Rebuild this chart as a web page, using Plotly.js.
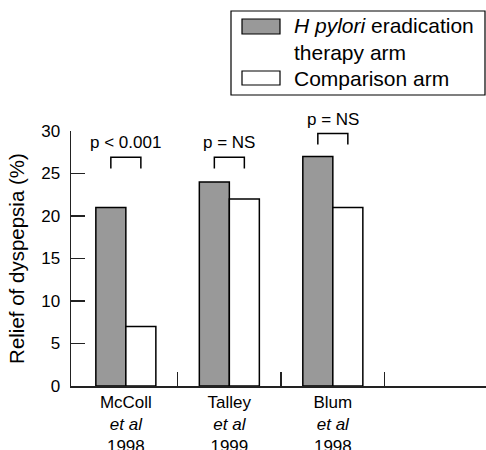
<!DOCTYPE html>
<html>
<head>
<meta charset="utf-8">
<script src="https://cdn.plot.ly/plotly-3.0.1.min.js"></script>
<style>html,body{margin:0;padding:0;background:#fff;}#chart{width:486px;height:450px;}</style>
</head>
<body>
<div id="chart"></div>
<script>
// ---- data ----
var studies = ["McColl", "Talley", "Blum"];
var studyYears = ["1998", "1999", "1998"];
var eradicationArm = [21, 24, 27];
var comparisonArm = [7, 22, 21];
var pLabels = ["p < 0.001", "p = NS", "p = NS"];
var bracketLevels = [26.9, 26.9, 29.7];
var seriesNames = ["<i>H pylori</i> eradication<br>therapy arm", "Comparison arm"];
var yTitle = "Relief of dyspepsia (%)";

var xIdx = studies.map(function (_, i) { return i; });
var tickText = studies.map(function (s, i) { return s + "<br><i>et al</i><br>" + studyYears[i]; });

var FONT = "Liberation Sans, Arial, Helvetica, sans-serif";
var GRAY = "#999999";

var traces = [
  { type: "bar", x: xIdx, y: eradicationArm, name: seriesNames[0],
    marker: { color: GRAY, line: { color: "#000", width: 1.5 } }, showlegend: false, hoverinfo: "skip" },
  { type: "bar", x: xIdx, y: comparisonArm, name: seriesNames[1],
    marker: { color: "#fff", line: { color: "#000", width: 1.5 } }, showlegend: false, hoverinfo: "skip" }
];

var half = 0.145, depth = 1.3;
var shapes = [];
var annotations = [];
xIdx.forEach(function (i) {
  var top = bracketLevels[i];
  shapes.push({ type: "path", xref: "x", yref: "y",
    path: "M" + (i - half) + "," + (top - depth) + " L" + (i - half) + "," + top +
          " L" + (i + half) + "," + top + " L" + (i + half) + "," + (top - depth),
    line: { color: "#000", width: 1.5 } });
  annotations.push({ xref: "x", yref: "y", x: i, y: top, yanchor: "bottom", yshift: 3,
    text: pLabels[i], showarrow: false, font: { family: FONT, size: 17, color: "#000" } });
});

// legend (drawn manually to match the wide swatches)
function px2x(p) { return (p - 71) / 415; }
function px2y(p) { return (386 - p) / 255; }
shapes.push({ type: "rect", xref: "paper", yref: "paper",
  x0: px2x(231), x1: px2x(485), y0: px2y(95), y1: px2y(11), line: { color: "#000", width: 1.2 }, fillcolor: "rgba(0,0,0,0)" });
shapes.push({ type: "rect", xref: "paper", yref: "paper",
  x0: px2x(242), x1: px2x(280), y0: px2y(34), y1: px2y(19), line: { color: "#000", width: 1.2 }, fillcolor: GRAY });
shapes.push({ type: "rect", xref: "paper", yref: "paper",
  x0: px2x(242), x1: px2x(280), y0: px2y(85), y1: px2y(71), line: { color: "#000", width: 1.2 }, fillcolor: "#fff" });
annotations.push({ xref: "paper", yref: "paper", x: px2x(292), y: px2y(39.5), xanchor: "left", yanchor: "middle",
  align: "left", text: seriesNames[0], showarrow: false, font: { family: FONT, size: 21, color: "#000" } });
annotations.push({ xref: "paper", yref: "paper", x: px2x(292), y: px2y(78), xanchor: "left", yanchor: "middle",
  align: "left", text: seriesNames[1], showarrow: false, font: { family: FONT, size: 21, color: "#000" } });

var layout = {
  width: 486, height: 450,
  margin: { l: 71, r: 0, t: 131, b: 64 },
  paper_bgcolor: "#fff", plot_bgcolor: "#fff",
  barmode: "group", bargap: 0.42, bargroupgap: 0,
  showlegend: false,
  font: { family: FONT, color: "#000" },
  xaxis: {
    range: [-0.53, 3.48], tickvals: xIdx, ticktext: tickText,
    showline: true, linecolor: "#222", linewidth: 1.5,
    ticks: "", showgrid: false, zeroline: false,
    tickfont: { family: FONT, size: 17, color: "#000" },
    minor: { tickvals: [0.5, 1.5, 2.5], ticks: "inside", ticklen: 14, tickwidth: 1.5, tickcolor: "#222", showgrid: false }
  },
  yaxis: {
    range: [0, 30], dtick: 5, tick0: 0,
    showline: true, linecolor: "#222", linewidth: 1.5,
    ticks: "inside", ticklen: 14, tickwidth: 1.5, tickcolor: "#222",
    showgrid: false, zeroline: false,
    tickfont: { family: FONT, size: 17, color: "#000" },
    ticklabelstandoff: 6,
    title: { text: yTitle, font: { family: FONT, size: 20.5, color: "#000" }, standoff: 11 }
  },
  shapes: shapes,
  annotations: annotations
};

Plotly.newPlot("chart", traces, layout, { staticPlot: true, displayModeBar: false });
</script>
</body>
</html>
